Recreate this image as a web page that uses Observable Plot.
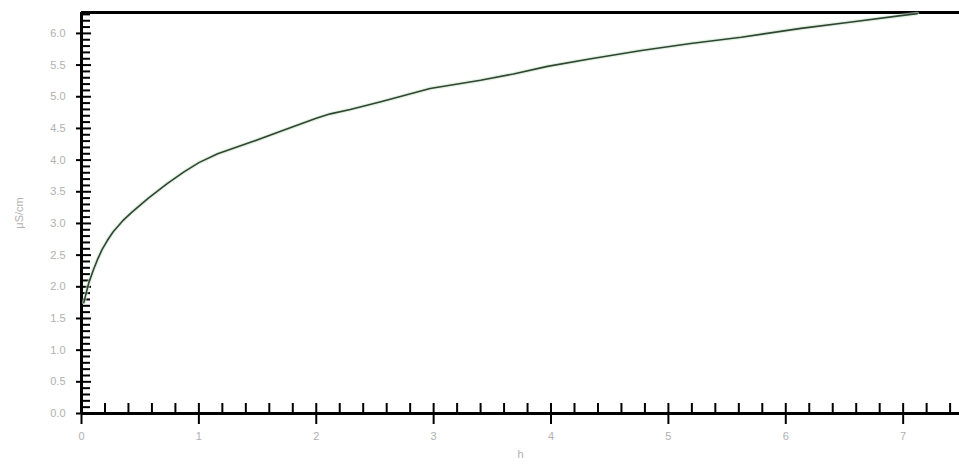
<!DOCTYPE html>
<html>
<head>
<meta charset="utf-8">
<script src="https://cdn.jsdelivr.net/npm/d3@7"></script>
<script src="https://cdn.jsdelivr.net/npm/@observablehq/plot@0.6"></script>
<style>
  html, body { margin: 0; padding: 0; background: #fff; }
  #chart svg { display: block; }
</style>
</head>
<body>
<div id="chart"></div>
<script>
// Data
const hours = [0.02, 0.04, 0.06, 0.10, 0.134, 0.176, 0.22, 0.27, 0.35, 0.43, 0.57, 0.73, 0.87, 1.0, 1.16, 1.44, 1.72, 2.0, 2.12, 2.29, 2.55, 2.97, 3.40, 3.68, 3.97, 4.34, 4.77, 5.19, 5.62, 6.13, 6.56, 6.98, 7.12];
const conductivity = [1.75, 1.90, 2.05, 2.26, 2.42, 2.59, 2.73, 2.87, 3.04, 3.18, 3.40, 3.63, 3.81, 3.96, 4.10, 4.28, 4.47, 4.66, 4.73, 4.80, 4.92, 5.13, 5.26, 5.36, 5.48, 5.60, 5.73, 5.84, 5.94, 6.08, 6.18, 6.28, 6.31];

const xMajorTicks = [0, 1, 2, 3, 4, 5, 6, 7];
const xMinorTicks = [0.2,0.4,0.6,0.8,1.2,1.4,1.6,1.8,2.2,2.4,2.6,2.8,3.2,3.4,3.6,3.8,4.2,4.4,4.6,4.8,5.2,5.4,5.6,5.8,6.2,6.4,6.6,6.8,7.2,7.4];
const yMajorTicks = [0, 0.5, 1.0, 1.5, 2.0, 2.5, 3.0, 3.5, 4.0, 4.5, 5.0, 5.5, 6.0];
const yMinorTicks = [0.1,0.2,0.3,0.4,0.6,0.7,0.8,0.9,1.1,1.2,1.3,1.4,1.6,1.7,1.8,1.9,2.1,2.2,2.3,2.4,2.6,2.7,2.8,2.9,3.1,3.2,3.3,3.4,3.6,3.7,3.8,3.9,4.1,4.2,4.3,4.4,4.6,4.7,4.8,4.9,5.1,5.2,5.3,5.4,5.6,5.7,5.8,5.9,6.1,6.2,6.3];
const xDomain = [0, 7.48];
const yDomain = [0, 6.33];
const xLabel = "h";
const yLabel = "μS/cm";

const rows = hours.map((h, i) => ({h, v: conductivity[i]}));
const labelColor = "#b0b0b0";

const chart = Plot.plot({
  width: 959,
  height: 465,
  marginLeft: 81,
  marginRight: 0,
  marginTop: 12,
  marginBottom: 52,
  style: {fontFamily: "Liberation Sans, Arial, sans-serif", fontSize: "11px", background: "#fff"},
  x: {domain: xDomain},
  y: {domain: yDomain},
  marks: [
    Plot.axisY({ticks: yMajorTicks, tickSize: 0, tickPadding: 16, tickFormat: d3.format(".1f"), fill: labelColor,
      label: yLabel, labelAnchor: "center", labelOffset: 66, labelArrow: "none", fontSize: 11}),
    Plot.axisY({ticks: yMajorTicks, tickSize: 15, dx: 10, text: null, label: null, stroke: "#000", strokeWidth: 2}),
    Plot.axisY({ticks: yMinorTicks, tickSize: 9, dx: 9, text: null, label: null, stroke: "#000", strokeWidth: 2}),
    Plot.axisX({ticks: xMajorTicks, tickSize: 0, tickPadding: 19, fill: labelColor,
      label: xLabel, labelAnchor: "center", labelOffset: 44, labelArrow: "none", fontSize: 11}),
    Plot.axisX({ticks: xMajorTicks, tickSize: 21, dy: -10, text: null, label: null, stroke: "#000", strokeWidth: 2}),
    Plot.axisX({ticks: xMinorTicks, tickSize: 10, dy: -10, text: null, label: null, stroke: "#000", strokeWidth: 2}),
    Plot.ruleX([xDomain[0]], {stroke: "#000", strokeWidth: 3}),
    Plot.ruleY([yDomain[0]], {stroke: "#000", strokeWidth: 3}),
    Plot.ruleY([yDomain[1]], {stroke: "#000", strokeWidth: 3}),
    Plot.line(rows, {x: "h", y: "v", stroke: "#cfe8cf", strokeWidth: 4, strokeOpacity: 0.6}),
    Plot.line(rows, {x: "h", y: "v", stroke: "#2f4532", strokeWidth: 1.6})
  ]
});
document.getElementById("chart").append(chart);
</script>
</body>
</html>
